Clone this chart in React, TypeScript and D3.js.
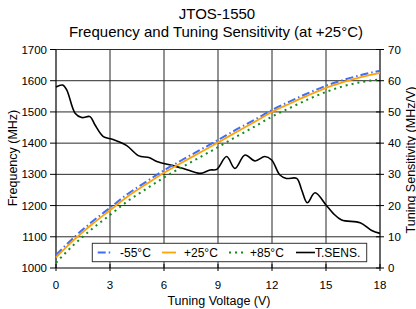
import React from "react";
import * as d3 from "d3";

const voltage = [0, 1, 2, 3, 4, 5, 6, 7, 8, 9, 10, 11, 12, 13, 14, 15, 16, 17, 18];
const freqM55 = [1042, 1098, 1148, 1193, 1238, 1276, 1313, 1346, 1378, 1410, 1443, 1474, 1506, 1534, 1560, 1584, 1603, 1619, 1632];
const freqP25 = [1034, 1090, 1140, 1185, 1230, 1268, 1305, 1338, 1370, 1402, 1435, 1467, 1500, 1527, 1553, 1577, 1596, 1612, 1625];
const freqP85 = [1017, 1075, 1125, 1170, 1215, 1253, 1290, 1323, 1355, 1387, 1420, 1452, 1485, 1513, 1540, 1564, 1583, 1596, 1604];

const sensV = [0, 0.37, 0.6, 1.06, 1.43, 1.89, 2.17, 2.63, 3.09, 3.93, 4.57, 5.2, 5.6, 6.5, 7.07, 8.0, 8.56, 8.93, 9.48, 9.94, 10.5, 11.06, 11.6, 11.98, 12.44, 12.8, 13.37, 13.65, 13.96, 14.39, 15.0, 15.4, 15.87, 16.9, 17.54, 18];
const sensS = [58.0, 58.6, 57, 49.6, 48.2, 48.5, 45.8, 42.1, 41.3, 39.2, 36, 35.3, 34.1, 32.8, 31.9, 30.3, 31.4, 31.6, 35.7, 31.9, 36.2, 34.3, 35.7, 34.6, 29.8, 28.7, 28.7, 25, 20.9, 24.1, 20.2, 17.5, 15.4, 14.5, 12, 11.1];

const xTicks = [0, 3, 6, 9, 12, 15, 18];
const yLeftTicks = [1000, 1100, 1200, 1300, 1400, 1500, 1600, 1700];
const yRightTicks = [0, 10, 20, 30, 40, 50, 60, 70];

const W = 416, H = 309;
const L = 56, R = 380, T = 49.5, B = 268;
const FONT = "'Liberation Sans', Arial, Helvetica, sans-serif";

export default function App() {
  const x = d3.scaleLinear().domain([0, 18]).range([L, R]);
  const yL = d3.scaleLinear().domain([1000, 1700]).range([B, T]);
  const yR = d3.scaleLinear().domain([0, 70]).range([B, T]);

  const freqLine = (arr: number[]) =>
    d3.line<number>().x((_, i) => x(voltage[i])).y((d) => yL(d)).curve(d3.curveMonotoneX)(arr) || "";
  const sensLine =
    d3.line<number>().x((_, i) => x(sensV[i])).y((d) => yR(d)).curve(d3.curveCatmullRom.alpha(0.5))(sensS) || "";

  const legendItems = [
    { label: "-55°C", color: "#3d6ef5", dash: "8,3,1.5,3", width: 2, sx: 97.7, tx: 120 },
    { label: "+25°C", color: "#ffa10a", dash: "", width: 1.8, sx: 162, tx: 184 },
    { label: "+85°C", color: "#148a14", dash: "2,4", width: 2, sx: 229, tx: 250 },
    { label: "T.SENS.", color: "#000", dash: "", width: 1.6, sx: 296, tx: 315 },
  ];

  return (
    <svg width={W} height={H} style={{ display: "block", position: "absolute", left: 0, top: 0 }} fontFamily={FONT}>
      <rect x={0} y={0} width={W} height={H} fill="#fff" />
      <text x={217} y={19} textAnchor="middle" fontSize={15}>JTOS-1550</text>
      <text x={216} y={36.5} textAnchor="middle" fontSize={15}>Frequency and Tuning Sensitivity (at +25°C)</text>

      {/* vertical grid */}
      {xTicks.slice(1, -1).map((t) => (
        <line key={"vg" + t} x1={x(t)} x2={x(t)} y1={T} y2={B} stroke="#6e6e6e" strokeWidth={1.5} />
      ))}
      {/* horizontal grid */}
      {yLeftTicks.slice(1).map((t) => (
        <line key={"hg" + t} x1={L} x2={R} y1={yL(t)} y2={yL(t)} stroke="#2a2a2a" strokeWidth={1} />
      ))}

      {/* axes */}
      <line x1={L} x2={L} y1={T} y2={B} stroke="#000" strokeWidth={1.2} />
      <line x1={R} x2={R} y1={T} y2={B} stroke="#000" strokeWidth={1.2} />
      <line x1={L} x2={R} y1={B} y2={B} stroke="#000" strokeWidth={1.2} />

      {yLeftTicks.map((t) => (
        <g key={"yl" + t}>
          <line x1={L - 6} x2={L} y1={yL(t)} y2={yL(t)} stroke="#000" />
          <text x={L - 9} y={yL(t) + 4} textAnchor="end" fontSize={11.5}>{t}</text>
        </g>
      ))}
      {yRightTicks.map((t) => (
        <g key={"yr" + t}>
          <line x1={R - 4} x2={R + 4} y1={yR(t)} y2={yR(t)} stroke="#000" />
          <text x={R + 8} y={yR(t) + 4} textAnchor="start" fontSize={11.5}>{t}</text>
        </g>
      ))}
      {xTicks.map((t) => (
        <g key={"xt" + t}>
          <line x1={x(t)} x2={x(t)} y1={B - 4} y2={B + 3} stroke="#000" />
          <text x={x(t)} y={289} textAnchor="middle" fontSize={11.5}>{t}</text>
        </g>
      ))}

      <text x={219} y={305} textAnchor="middle" fontSize={12.5}>Tuning Voltage (V)</text>
      <text transform={`translate(17,158) rotate(-90)`} textAnchor="middle" fontSize={12.5}>Frequency (MHz)</text>
      <text transform={`translate(414.5,160) rotate(-90)`} textAnchor="middle" fontSize={12.5}>Tuning Sensitivity (MHz/V)</text>

      <path d={sensLine} fill="none" stroke="#000" strokeWidth={1.6} />
      <path d={freqLine(freqP85)} fill="none" stroke="#148a14" strokeWidth={2} strokeDasharray="2,4" />
      <path d={freqLine(freqM55)} fill="none" stroke="#3d6ef5" strokeWidth={2} strokeDasharray="8,3,1.5,3" />
      <path d={freqLine(freqP25)} fill="none" stroke="#ffa10a" strokeWidth={1.8} />

      {/* legend */}
      <rect x={92.3} y={243.3} width={274.4} height={18.4} fill="#fff" stroke="#333" strokeWidth={1} />
      {legendItems.map((it) => (
        <g key={it.label}>
          <line x1={it.sx} x2={it.sx + (it.label === "T.SENS." ? 19 : 14)} y1={252.5} y2={252.5}
            stroke={it.color} strokeWidth={it.width} strokeDasharray={it.dash || undefined} />
          <text x={it.tx} y={256.8} fontSize={12}>{it.label}</text>
        </g>
      ))}
    </svg>
  );
}
